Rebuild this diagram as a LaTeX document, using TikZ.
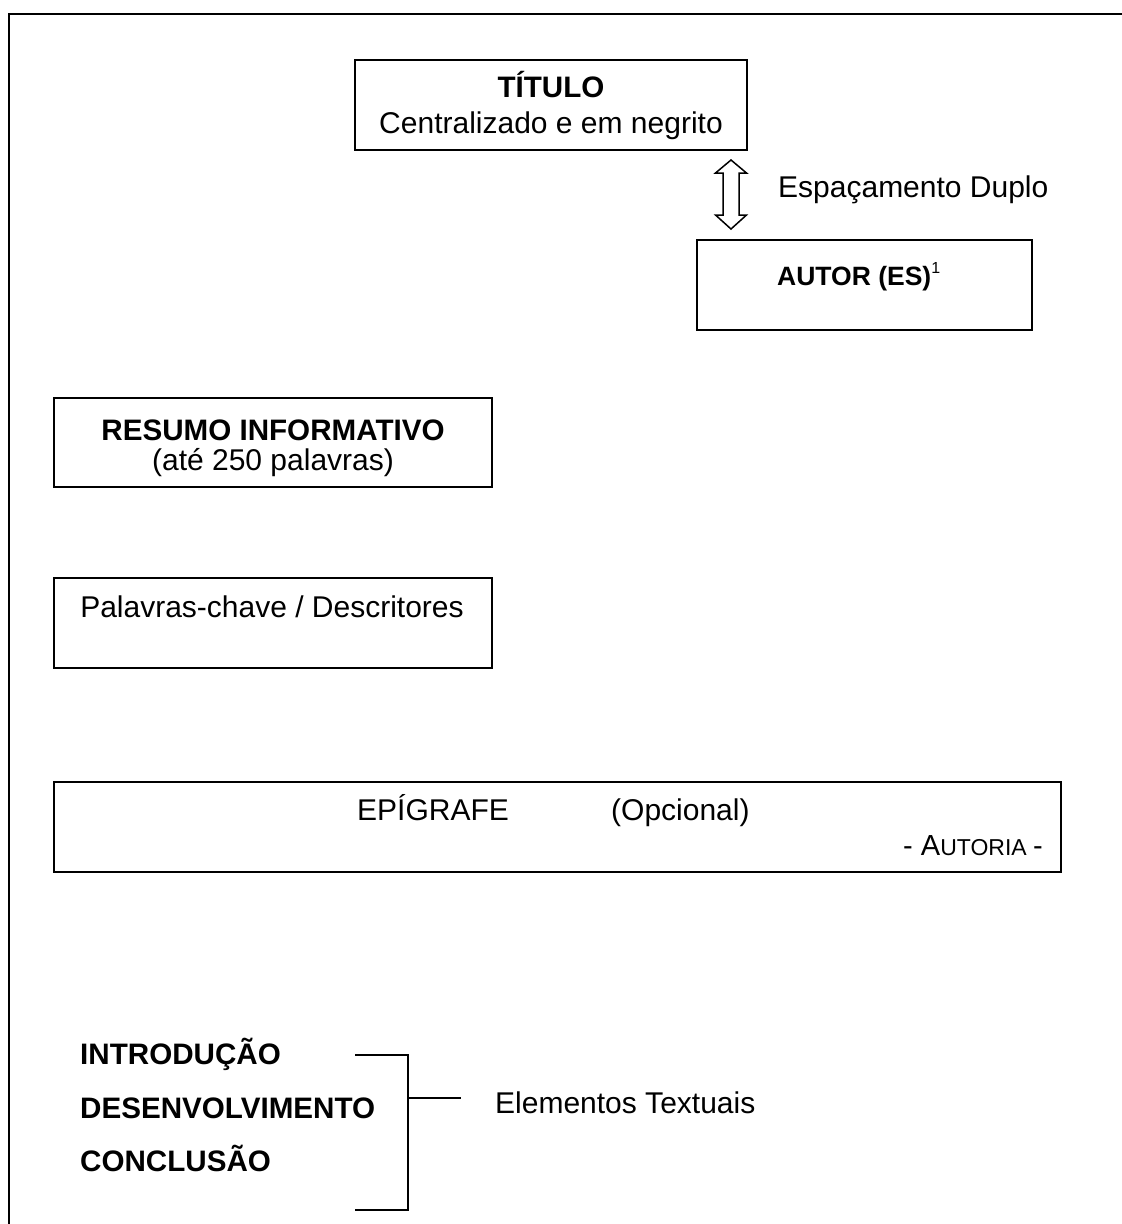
\documentclass[tikz,border=0pt]{standalone}
\usepackage{fontspec}
\setmainfont{Liberation Sans}
\begin{document}
\begin{tikzpicture}[x=1pt,y=-1pt,
  box/.style={draw=black,line width=1.6pt,rectangle,inner sep=0pt},
  txt/.style={inner sep=0pt,font=\fontsize{30}{35}\selectfont},
  btxt/.style={inner sep=0pt,font=\fontsize{29.6}{35}\selectfont\bfseries},
  ln/.style={draw=black,line width=1.6pt}]
\useasboundingbox (0,0) rectangle (1122,1224);
% outer frame (left and top only)
\coordinate (fbl) at (9,1224);
\coordinate (ftl) at (9,14);
\coordinate (ftr) at (1122,14);
\draw[ln] (fbl) -- (ftl) -- (ftr);
% title box
\node[box,minimum width=392,minimum height=90] (titlebox) at (551,105) {};
\node[btxt,anchor=base] (t1) at (551,97) {TÍTULO};
\node[txt,anchor=base] (t2) at (551,133) {Centralizado e em negrito};
% double arrow
\draw[line width=1.5pt,line join=miter]
  (731,160) -- (746.5,173) -- (739,173) -- (739,215) -- (746.5,215)
  -- (731,229) -- (715.5,215) -- (723,215) -- (723,173) -- (715.5,173) -- cycle;
\node[txt,anchor=base west] (esp) at (778,197) {Espaçamento Duplo};
% author box
\node[box,minimum width=335,minimum height=90] (autorbox) at (864.5,285) {};
\node[inner sep=0pt,anchor=base west,font=\fontsize{26.5}{30}\selectfont\bfseries] (autor) at (777,285) {AUTOR (ES)\raisebox{12pt}{\normalfont\fontsize{16}{16}\selectfont 1}};
% resumo box
\node[box,minimum width=438,minimum height=89] (resbox) at (273,442.5) {};
\node[btxt,anchor=base] (r1) at (273,440) {RESUMO INFORMATIVO};
\node[txt,anchor=base] (r2) at (273,470) {(até 250 palavras)};
% palavras box
\node[box,minimum width=438,minimum height=90] (palbox) at (273,623) {};
\node[txt,anchor=base] (p1) at (272,617) {Palavras-chave / Descritores};
% epigrafe box
\node[box,minimum width=1007,minimum height=90] (epibox) at (557.5,827) {};
\node[txt,anchor=base west] (e1) at (357,820) {EPÍGRAFE};
\node[txt,anchor=base west] (e2) at (611,820) {(Opcional)};
\node[inner sep=0pt,anchor=base east] (e3) at (1043,855) {\fontsize{29}{32}\selectfont - A\fontsize{23}{32}\selectfont UTORIA \fontsize{29}{32}\selectfont-};
% textual elements
\node[btxt,anchor=base west] (i1) at (80,1064.5) {INTRODUÇÃO};
\node[btxt,anchor=base west] (i2) at (80,1118) {DESENVOLVIMENTO};
\node[btxt,anchor=base west] (i3) at (80,1171.5) {CONCLUSÃO};
\coordinate (bt0) at (355,1055);
\coordinate (bt1) at (408,1055);
\coordinate (bb0) at (355,1210);
\coordinate (bb1) at (408,1210);
\coordinate (bm0) at (408,1098);
\coordinate (bm1) at (461,1098);
\draw[ln] (bt0) -- (bt1) -- (bb1) -- (bb0);
\draw[ln] (bm0) -- (bm1);
\node[txt,anchor=base west] (el) at (495,1113) {Elementos Textuais};
\end{tikzpicture}
\end{document}
